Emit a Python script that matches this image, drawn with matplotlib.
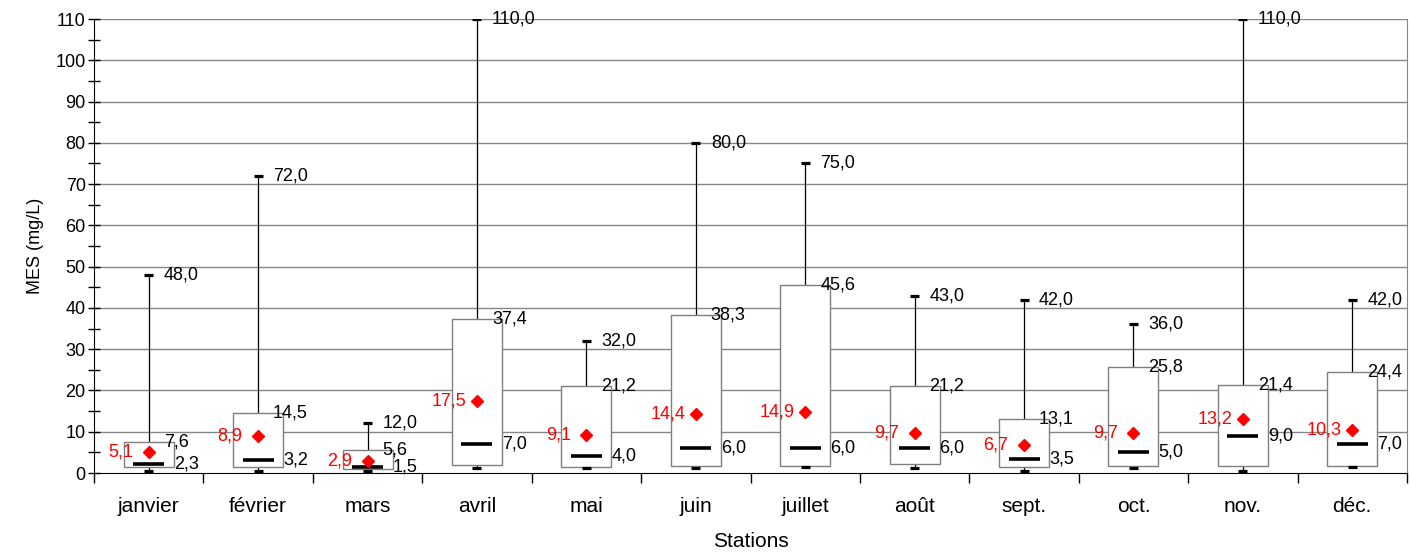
import matplotlib
matplotlib.use('Agg')
import matplotlib.pyplot as plt
from matplotlib import font_manager as fm
from matplotlib.patches import Rectangle
from matplotlib.ticker import FixedLocator, MultipleLocator, NullFormatter

# ---- data ----
months = ['janvier', 'février', 'mars', 'avril', 'mai', 'juin', 'juillet',
          'août', 'sept.', 'oct.', 'nov.', 'déc.']
mins = [0.5, 0.5, 0.5, 1.2, 1.2, 1.2, 1.5, 1.2, 0.5, 1.2, 0.5, 1.5]
q1 = [1.5, 1.5, 1.0, 2.0, 1.5, 1.8, 1.8, 2.2, 1.5, 1.8, 1.8, 1.8]
medians = [2.3, 3.2, 1.5, 7.0, 4.0, 6.0, 6.0, 6.0, 3.5, 5.0, 9.0, 7.0]
q3 = [7.6, 14.5, 5.6, 37.4, 21.2, 38.3, 45.6, 21.2, 13.1, 25.8, 21.4, 24.4]
maxs = [48.0, 72.0, 12.0, 110.0, 32.0, 80.0, 75.0, 43.0, 42.0, 36.0, 110.0, 42.0]
means = [5.1, 8.9, 2.9, 17.5, 9.1, 14.4, 14.9, 9.7, 6.7, 9.7, 13.2, 10.3]

names = {f.name for f in fm.fontManager.ttflist}
base = 'Liberation Sans' if 'Liberation Sans' in names else 'DejaVu Sans'
narrow = 'Liberation Sans Narrow' if 'Liberation Sans Narrow' in names else base
plt.rcParams['font.family'] = base

W, H = 1410, 552
fig = plt.figure(figsize=(W / 100, H / 100), dpi=100)
L, R, T, B = 94, 1407, 19, 473
ax = fig.add_axes([L / W, 1 - B / H, (R - L) / W, (B - T) / H])
ax.set_xlim(-0.5, len(months) - 0.5)
ax.set_ylim(0, 110)

PX = 0.72  # points per pixel
unit_px = (R - L) / len(months)
box_half = 25 / unit_px
med_half = 15.5 / unit_px
cap_half = 4.5 / unit_px

grid_c = '#868686'
for y in range(10, 111, 10):
    ax.axhline(y, color=grid_c, lw=1.0, zorder=0)

def fmt(v):
    return f'{v:.1f}'.replace('.', ',')

fs = 13
for i in range(len(months)):
    x = i
    ax.vlines(x, q3[i], maxs[i], color='black', lw=0.9, zorder=1)
    ax.vlines(x, mins[i], q1[i], color='black', lw=0.9, zorder=1)
    ax.hlines([maxs[i], mins[i]], x - cap_half, x + cap_half, color='black', lw=2.3, zorder=3)
    ax.add_patch(Rectangle((x - box_half, q1[i]), 2 * box_half, q3[i] - q1[i],
                           facecolor='white', edgecolor='#7f7f7f', lw=1.0, zorder=2))
    ax.hlines(medians[i], x - med_half, x + med_half, color='black', lw=2.6, zorder=3)
    ax.plot(x, means[i], 'D', color='#ff0000', ms=6.6, mec='#ff0000', zorder=4)
    ax.annotate(fmt(maxs[i]), (x, maxs[i]), xytext=(15 * PX, 0), textcoords='offset points',
                ha='left', va='center', fontsize=fs, color='black', zorder=5)
    ax.annotate(fmt(q3[i]), (x, q3[i]), xytext=(15 * PX, 0), textcoords='offset points',
                ha='left', va='center', fontsize=fs, color='black', zorder=5)
    ax.annotate(fmt(medians[i]), (x, medians[i]), xytext=(25 * PX, 0), textcoords='offset points',
                ha='left', va='center', fontsize=fs, color='black', zorder=5)
    ax.annotate(fmt(means[i]), (x, means[i]), xytext=(-28 * PX, 0), textcoords='offset points',
                ha='center', va='center', fontsize=fs, color='#ff0000', zorder=5)

# axes styling
ax.spines['top'].set_visible(False)
ax.spines['right'].set_color(grid_c)
ax.spines['left'].set_color('black')
ax.spines['bottom'].set_color('black')
ax.spines['left'].set_zorder(6)
ax.spines['bottom'].set_zorder(6)

ax.yaxis.set_major_locator(MultipleLocator(10))
ax.yaxis.set_minor_locator(MultipleLocator(5))
ax.tick_params(axis='y', which='both', direction='inout', length=9, width=1, labelsize=13, pad=1.5)

ax.xaxis.set_major_locator(FixedLocator([k - 0.5 for k in range(len(months) + 1)]))
ax.xaxis.set_major_formatter(NullFormatter())
ax.xaxis.set_minor_locator(FixedLocator(list(range(len(months)))))
ax.set_xticklabels(months, minor=True)
ax.tick_params(axis='x', which='major', direction='out', length=7, width=1)
ax.tick_params(axis='x', which='minor', length=0, pad=17, labelsize=15)
for lab in ax.get_xticklabels(minor=True):
    lab.set_family(narrow)

ax.set_xlabel('Stations', fontsize=15, family=narrow, labelpad=12)
ax.set_ylabel('MES (mg/L)', fontsize=13, labelpad=8)

fig.savefig('out.png', dpi=100)
